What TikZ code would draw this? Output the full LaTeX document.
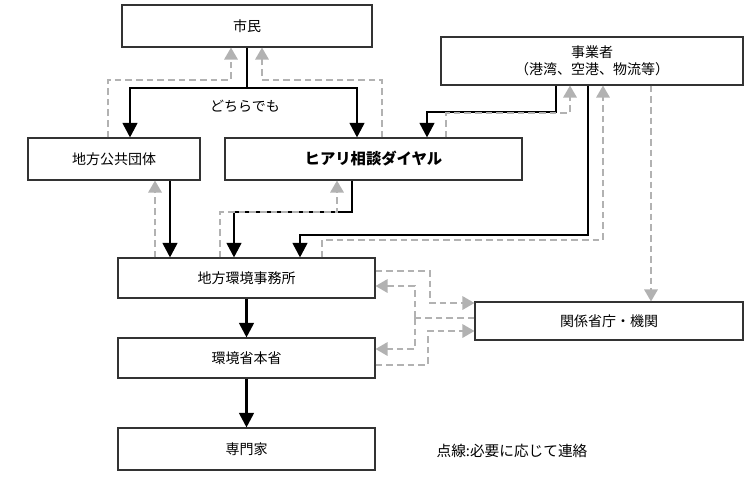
\documentclass[tikz,border=0pt]{standalone}
\usepackage{fontspec}
\setmainfont{Noto Sans CJK JP}
\usetikzlibrary{arrows.meta}
\begin{document}
\begin{tikzpicture}[x=0.75pt,y=-0.75pt,
 box/.style={draw=black!80,line width=0.8pt,fill=white,inner sep=0pt,font=\fontsize{10.5}{13}\selectfont},
 blk/.style={line width=2pt,-{Triangle[width=11pt,length=11pt]}},
 gry/.style={draw=black!30,line width=1.6pt,dash pattern=on 5pt off 3pt,-{Triangle[width=10pt,length=9pt,color=black!30]}},
 gl/.style={draw=black!30,line width=1.6pt,dash pattern=on 5pt off 3pt}]
\useasboundingbox (0,0) rectangle (756,487);
\node[box,minimum width=250*0.75pt,minimum height=42*0.75pt] (shimin) at (247,26) {市民};
\node[box,minimum width=302*0.75pt,minimum height=48*0.75pt,align=center] (jigyo) at (592,61) {事業者\\（港湾、空港、物流等）};
\node[box,minimum width=172*0.75pt,minimum height=42*0.75pt] (chiho) at (114,159) {地方公共団体};
\node[box,minimum width=297*0.75pt,minimum height=42*0.75pt,font=\fontsize{11.5}{13}\selectfont\bfseries] (hiari) at (373.5,159) {ヒアリ相談ダイヤル};
\node[box,minimum width=257*0.75pt,minimum height=40*0.75pt] (kankyo) at (246.5,278) {地方環境事務所};
\node[box,minimum width=268*0.75pt,minimum height=38*0.75pt] (kankei) at (609,321) {関係省庁・機関};
\node[box,minimum width=257*0.75pt,minimum height=40*0.75pt] (honsho) at (246.5,358) {環境省本省};
\node[box,minimum width=257*0.75pt,minimum height=42*0.75pt] (senmon) at (246.5,449) {専門家};
\node[font=\fontsize{11}{13}\selectfont] (note) at (512,451) {点線:必要に応じて連絡};
\node[font=\fontsize{10.5}{13}\selectfont] (dochira) at (245,106) {どちらでも};
% black
\draw[line width=2pt] (shimin.south) -- (247,88) coordinate (m);
\draw[blk] (m) -| (chiho.north -| 130,0);
\draw[blk] (m) -| (hiari.north -| 357,0);
\draw[blk] (jigyo.south -| 556,0) |- (427,112) -- (hiari.north -| 427,0);
\draw[blk] (jigyo.south -| 588,0) |- (300,235) -- (kankyo.north -| 300,0);
\draw[blk] (hiari.south -| 352,0) |- (234,212) -- (kankyo.north -| 234,0);
\draw[blk] (chiho.south -| 170,0) -- (kankyo.north -| 170,0);
\draw[blk] (kankyo) -- (honsho);
\draw[blk] (honsho) -- (senmon);
% gray
\draw[gry] (chiho.north -| 108,0) |- (231,80) -- (shimin.south -| 231,0);
\draw[gry] (hiari.north -| 382,0) |- (262,80) -- (shimin.south -| 262,0);
\draw[gry] (hiari.north -| 446,0) |- (570,113) -- (jigyo.south -| 570,0);
\draw[gry] (kankyo.north -| 155,0) -- (chiho.south -| 155,0);
\draw[gry] (kankyo.north -| 220,0) |- (337,212) -- (hiari.south -| 337,0);
\draw[gry] (kankyo.north -| 322,0) |- (603,240) -- (jigyo.south -| 603,0);
\draw[gry] (jigyo.south -| 651,0) -- (kankei.north -| 651,0);
\draw[gry] (kankyo.east |- 0,271) -| (430,303) -- (kankei.west |- 0,303);
\draw[gl] (kankei.west |- 0,318) -- (415,318) coordinate (k);
\draw[gry] (k) |- (kankyo.east |- 0,286);
\draw[gry] (k) |- (honsho.east |- 0,349);
\draw[gry] (honsho.east |- 0,365) -| (428,331) -- (kankei.west |- 0,331);
\end{tikzpicture}
\end{document}
